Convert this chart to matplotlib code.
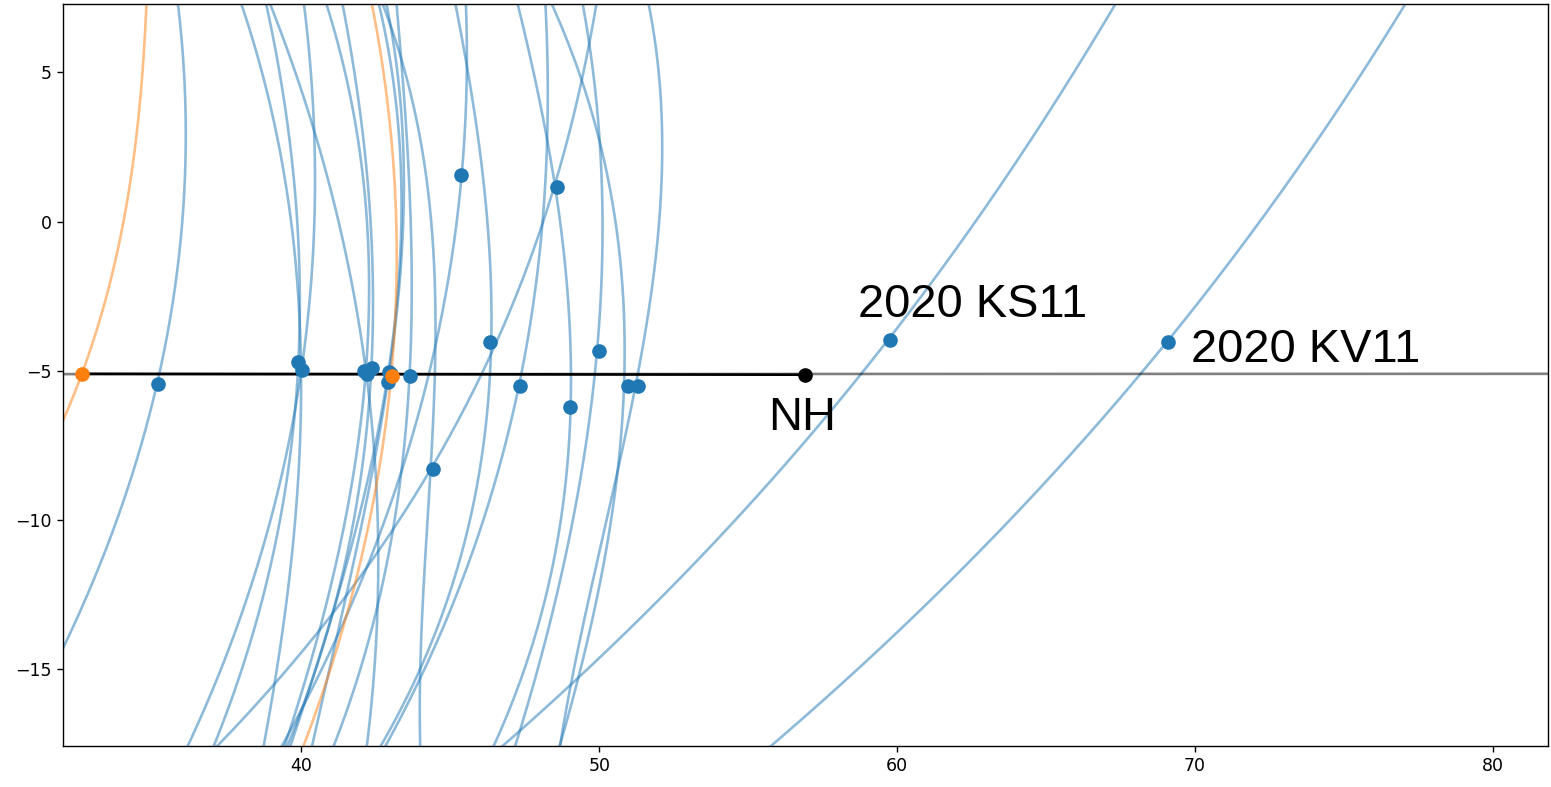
import numpy as np
import matplotlib
matplotlib.use("Agg")
import matplotlib.pyplot as plt

# ---- data ----
blue_x = [35.19, 39.89, 40.02, 42.11, 42.21, 42.37, 42.93, 42.90, 43.02, 43.64, 44.42,
          45.37, 46.34, 47.33, 48.58, 49.03, 49.98, 50.98, 51.29, 59.76, 69.09]
blue_y = [-5.45, -4.72, -4.98, -5.03, -5.10, -4.91, -5.06, -5.39, -5.13, -5.20, -8.30,
          1.57, -4.05, -5.52, 1.15, -6.24, -4.36, -5.53, -5.53, -3.97, -4.03]

orange_x = [32.64, 43.04]
orange_y = [-5.11, -5.17]

nh_x, nh_y = 56.90, -5.14
track_x = [32.0, 82.0]
track_y = [-5.12, -5.11]

# orbit arcs: x positions read at given y levels
blue_arcs = {
    "B1":   ([35.86, 36.11, 36.11, 35.85, 35.19, 33.96, 32.00], [7.28, 4.06, 1.82, -1.31, -5.45, -9.53, -14.33]),
    "K1":   ([38.01, 38.73, 39.41, 39.80, 39.93, 39.87, 38.73], [7.28, 4.63, 1.82, -0.86, -4.73, -9.36, -17.62]),
    "K2":   ([38.85, 39.30, 39.69, 39.91, 39.97, 39.35, 37.06], [7.28, 4.63, 1.82, -0.86, -4.83, -9.36, -17.62]),
    "K3":   ([40.08, 40.36, 40.47, 40.41, 40.00, 39.13, 37.62, 36.16], [7.28, 4.63, 1.82, -0.86, -4.83, -9.36, -14.29, -17.62]),
    "K4":   ([38.96, 40.41, 41.42, 42.05, 42.38, 42.52, 42.20], [7.28, 3.16, -0.91, -3.99, -6.68, -9.36, -17.62]),
    "K5":   ([40.86, 41.64, 42.04, 42.26, 42.32, 42.11, 41.61, 39.43], [7.28, 4.06, 1.82, -0.86, -2.65, -5.03, -9.36, -17.62]),
    "K6":   ([41.37, 41.87, 42.20, 42.32, 42.37, 41.88, 39.52], [7.28, 4.63, 1.82, -0.86, -4.91, -9.36, -17.62]),
    "K7":   ([42.63, 43.18, 43.38, 42.92, 42.05, 39.63], [7.28, 3.39, -0.97, -5.07, -9.36, -17.62]),
    "K8":   ([42.88, 43.32, 43.43, 42.90, 42.18, 40.36], [7.28, 3.39, -0.97, -5.37, -9.36, -17.62]),
    "K9":   ([43.21, 43.43, 43.60, 43.71, 43.64, 43.22, 41.08], [7.28, 4.06, 1.82, -0.86, -5.20, -9.36, -17.62]),
    "C1":   ([42.74, 43.55, 44.22, 44.43, 44.43, 44.27, 43.99], [7.28, 4.63, 1.82, -2.65, -7.35, -9.36, -17.62]),
    "D1":   ([49.87, 48.92, 47.68, 46.34, 44.66, 43.71, 40.64, 37.62, 37.15], [7.28, 2.38, -1.31, -4.33, -7.68, -9.36, -13.83, -17.08, -17.62]),
    "P45":  ([45.53, 45.45, 45.37, 44.50, 43.99, 43.02, 40.13, 39.36], [7.28, 2.38, 1.57, -4.09, -6.44, -9.36, -16.07, -17.62]),
    "P46":  ([45.17, 46.01, 46.34, 46.34, 46.14, 45.67, 42.65], [7.28, 2.38, -1.31, -4.05, -7.35, -10.03, -17.62]),
    "P47":  ([48.19, 48.29, 48.24, 47.95, 47.33, 46.85, 46.34, 43.99, 42.82], [7.28, 4.06, 2.38, -1.31, -5.52, -7.35, -9.36, -15.30, -17.62]),
    "P49":  ([47.29, 48.19, 48.58, 48.92, 49.03, 48.97, 48.80, 46.45], [7.28, 2.38, 1.15, -1.31, -6.24, -7.35, -9.36, -17.62]),
    "P50":  ([49.47, 49.87, 50.03, 50.09, 49.98, 49.59, 49.19, 47.18], [7.28, 4.06, 2.38, -1.31, -4.36, -7.35, -9.36, -17.62]),
    "P51":  ([48.47, 49.36, 50.03, 50.70, 50.98, 50.82, 50.26, 48.69], [7.28, 4.73, 2.38, -1.31, -5.53, -7.68, -9.36, -17.62]),
    "P52":  ([51.71, 51.99, 52.05, 51.99, 51.29, 50.70, 50.37, 48.69], [7.28, 4.06, 1.82, -1.31, -5.53, -7.68, -9.36, -17.62]),
    "KS11": ([67.32, 61.17, 59.76, 56.90, 53.39, 46.73], [7.28, -1.98, -3.97, -7.35, -11.28, -17.62]),
    "KV11": ([77.05, 70.67, 69.09, 66.23, 55.74], [7.28, -1.98, -4.03, -7.35, -17.62]),
}
orange_arcs = {
    "O1": ([34.80, 34.60, 34.32, 33.76, 32.64, 32.00], [7.28, 4.06, 1.82, -1.31, -5.11, -6.68]),
    "O2": ([42.37, 42.82, 43.10, 43.18, 43.04, 42.43, 41.81, 40.86, 40.08],
           [7.28, 4.63, 1.82, -0.86, -5.17, -9.36, -12.05, -15.40, -17.58]),
}

labels = [("2020 KS11", 58.69, -3.19), ("2020 KV11", 69.87, -4.72), ("NH", 55.67, -7.01)]

# ---- figure ----
fig = plt.figure(figsize=(15.51, 7.87), dpi=100)
ax = fig.add_axes([0.0406, 0.052, 0.9575, 0.943])


def draw_arc(xs, ys, color):
    xs = np.asarray(xs)
    ys = np.asarray(ys)
    deg = 3 if len(xs) >= 5 else 2
    coef = np.polyfit(ys, xs, deg)
    yy = np.linspace(ys.min() - 0.8, ys.max() + 0.5, 400)
    ax.plot(np.polyval(coef, yy), yy, color=color, alpha=0.5, lw=1.9, zorder=1)


for xs, ys in blue_arcs.values():
    draw_arc(xs, ys, "C0")
for xs, ys in orange_arcs.values():
    draw_arc(xs, ys, "C1")

ax.plot(track_x, track_y, color="black", alpha=0.5, lw=1.9, zorder=2)
ax.plot([orange_x[0], nh_x], [orange_y[0], nh_y], color="black", lw=1.9, zorder=3)

ax.plot(blue_x, blue_y, "o", color="C0", ms=9.5, zorder=4, lw=0)
ax.plot(orange_x, orange_y, "o", color="C1", ms=9.5, zorder=5, lw=0)
ax.plot([nh_x], [nh_y], "o", color="black", ms=9.5, zorder=5)

for txt, x, y in labels:
    ax.text(x, y, txt, fontsize=33.8, family="Liberation Sans", ha="left", va="baseline")

ax.set_xlim(32.0, 81.85)
ax.set_ylim(-17.6, 7.3)
ax.tick_params(labelsize=12.5, length=4.4, width=1.0)
for s in ax.spines.values():
    s.set_linewidth(1.0)

fig.savefig("out.png", dpi=100)
